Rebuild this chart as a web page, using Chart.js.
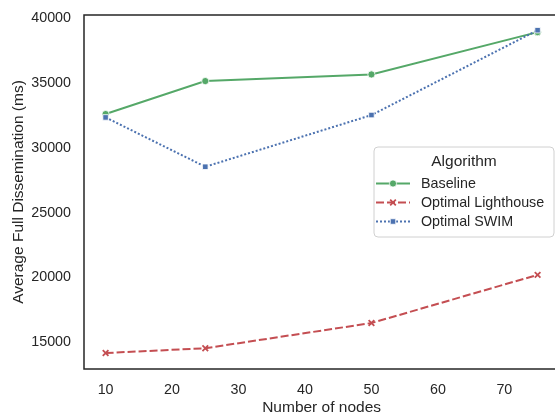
<!DOCTYPE html>
<html>
<head>
<meta charset="utf-8">
<script src="https://cdn.jsdelivr.net/npm/chart.js@4"></script>
<style>
  html, body { margin: 0; padding: 0; background: #ffffff; overflow: hidden; }
  #wrap { width: 565px; height: 417px; position: relative; }
</style>
</head>
<body>
<div id="wrap"><canvas id="chart"></canvas></div>
<script>
// Number of nodes in each run
const nodes = [10, 25, 50, 75];
// Average full dissemination time (ms) per algorithm
const baseline = [32440, 34980, 35490, 38750];
const optimalLighthouse = [14030, 14400, 16340, 20050];
const optimalSwim = [32180, 28380, 32360, 38900];
// Axis ticks
const xTicks = [10, 20, 30, 40, 50, 60, 70];
const yTicks = [15000, 20000, 25000, 30000, 35000, 40000];

const FONT = "'Liberation Sans', Arial, sans-serif";
const TEXT = '#262626';
const GREEN = '#55A868';
const RED = '#C44E52';
const BLUE = '#4C72B0';

const series = [
  { label: 'Baseline', values: baseline, color: GREEN, dash: [], point: 'circle', radius: 3.6 },
  { label: 'Optimal Lighthouse', values: optimalLighthouse, color: RED, dash: [8, 3], point: 'crossRot', radius: 4 },
  { label: 'Optimal SWIM', values: optimalSwim, color: BLUE, dash: [2, 2], point: 'rect', radius: 3.9 }
];

// later series are painted above earlier ones
const datasets = series.map((s, i) => ({
  label: s.label,
  order: series.length - i,
  data: nodes.map((n, k) => ({ x: n, y: s.values[k] })),
  borderColor: s.color,
  backgroundColor: s.color,
  borderWidth: 2,
  borderDash: s.dash,
  borderCapStyle: 'butt',
  tension: 0,
  pointStyle: s.point,
  pointRadius: s.radius,
  pointBackgroundColor: s.color,
  pointBorderColor: s.point === 'crossRot' ? s.color : '#ffffff',
  pointBorderWidth: s.point === 'crossRot' ? 1.8 : 0.8,
  pointHoverRadius: s.radius
}));

// Frame around the plot area plus the "Algorithm" legend box
const framePlugin = {
  id: 'frame',
  afterDatasetsDraw(chart) {
    const { ctx, chartArea: a } = chart;
    ctx.save();
    ctx.strokeStyle = TEXT;
    ctx.lineWidth = 1.5;
    ctx.strokeRect(a.left, a.top, a.right - a.left, a.bottom - a.top);

    // legend
    const bx = 374, by = 147, bw = 180, bh = 90, r = 4;
    ctx.beginPath();
    ctx.moveTo(bx + r, by);
    ctx.arcTo(bx + bw, by, bx + bw, by + bh, r);
    ctx.arcTo(bx + bw, by + bh, bx, by + bh, r);
    ctx.arcTo(bx, by + bh, bx, by, r);
    ctx.arcTo(bx, by, bx + bw, by, r);
    ctx.closePath();
    ctx.fillStyle = 'rgba(255,255,255,0.85)';
    ctx.fill();
    ctx.strokeStyle = '#d0d0d0';
    ctx.lineWidth = 1;
    ctx.stroke();

    ctx.fillStyle = TEXT;
    ctx.textBaseline = 'middle';
    ctx.textAlign = 'center';
    ctx.font = `15.5px ${FONT}`;
    ctx.fillText('Algorithm', 464, 162);

    const rows = [183.5, 202.5, 221.5];
    series.forEach((s, i) => {
      const y = rows[i];
      const ds = chart.data.datasets[i];
      ctx.save();
      ctx.strokeStyle = s.color;
      ctx.lineWidth = 2;
      ctx.setLineDash(s.dash);
      ctx.beginPath();
      ctx.moveTo(376, y);
      ctx.lineTo(410, y);
      ctx.stroke();
      ctx.restore();
      ctx.save();
      ctx.fillStyle = s.color;
      ctx.strokeStyle = ds.pointBorderColor;
      ctx.lineWidth = ds.pointBorderWidth;
      ctx.setLineDash([]);
      Chart.helpers.drawPoint(ctx, {
        pointStyle: s.point,
        radius: s.radius,
        rotation: 0,
        borderWidth: ds.pointBorderWidth
      }, 393, y);
      ctx.restore();
      ctx.fillStyle = TEXT;
      ctx.textAlign = 'left';
      ctx.font = `14.3px ${FONT}`;
      ctx.fillText(s.label, 421, y + 0.5);
    });
    ctx.restore();
  }
};

new Chart(document.getElementById('chart'), {
  type: 'line',
  data: { datasets },
  plugins: [framePlugin],
  options: {
    responsive: true,
    maintainAspectRatio: false,
    animation: false,
    layout: { padding: { top: 15, right: 5, left: 0, bottom: 0 } },
    plugins: { legend: { display: false }, tooltip: { enabled: false } },
    scales: {
      x: {
        type: 'linear',
        min: 6.75,
        max: 78.25,
        grid: { display: false, drawTicks: false },
        border: { display: false },
        afterBuildTicks: s => { s.ticks = xTicks.map(v => ({ value: v })); },
        afterFit: s => { s.height = 48; s.paddingLeft = 0; s.paddingRight = 0; },
        ticks: {
          padding: 12,
          color: TEXT,
          font: { family: FONT, size: 14.3 },
          maxRotation: 0,
          autoSkip: false
        },
        title: {
          display: true,
          text: 'Number of nodes',
          color: TEXT,
          font: { family: FONT, size: 15.5, lineHeight: 1.1 },
          padding: { top: 0, bottom: 1 }
        }
      },
      y: {
        min: 12800,
        max: 40070,
        grid: { display: false, drawTicks: false },
        border: { display: false },
        afterBuildTicks: s => { s.ticks = yTicks.map(v => ({ value: v })); },
        afterFit: s => { s.width = 84; s.paddingTop = 0; s.paddingBottom = 0; },
        ticks: {
          padding: 13,
          labelOffset: 2,
          color: TEXT,
          font: { family: FONT, size: 14.3 },
          autoSkip: false,
          callback: v => String(v)
        },
        title: {
          display: true,
          text: 'Average Full Dissemination (ms)',
          color: TEXT,
          font: { family: FONT, size: 15.5 },
          padding: { top: 9, bottom: 0 }
        }
      }
    }
  }
});
</script>
</body>
</html>
